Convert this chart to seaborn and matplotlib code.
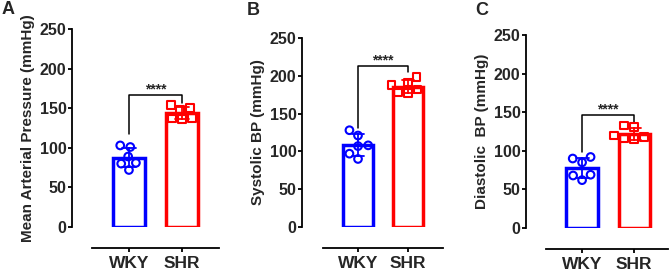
import matplotlib
matplotlib.use('Agg')
import pandas as pd
import matplotlib.pyplot as plt
import seaborn as sns

sns.set_style('ticks')
plt.rcParams['font.family'] = ['Liberation Sans', 'DejaVu Sans']
plt.rcParams['font.weight'] = 'bold'

groups = ['WKY', 'SHR']
colors = {'WKY': '#0000FF', 'SHR': '#FF0000'}
markers = {'WKY': 'o', 'SHR': 's'}

# individual animals (mmHg), n = 6 per group
map_wky = [101, 103, 89, 81, 80, 72]
map_shr = [150, 154, 148, 136, 138, 137]
sbp_wky = [128, 121, 108, 107, 97, 90]
sbp_shr = [198, 191, 188, 182, 178, 177]
dbp_wky = [92, 90, 85, 68, 69, 62]
dbp_shr = [131, 133, 115, 120, 116, 118]

panels = [(map_wky, map_shr), (sbp_wky, sbp_shr), (dbp_wky, dbp_shr)]
ylabels = ['Mean Arterial Pressure (mmHg)', 'Systolic BP (mmHg)', 'Diastolic  BP (mmHg)']
letters = ['A', 'B', 'C']
sig = '****'
# bracket: top, left leg end, right leg end
brackets = [(167, 117, 156), (213, 131, 205), (146, 98, 137)]

# layout in pixels: left, right, top, bottom of the plotting area
W, H = 670, 272
rects = [(72, 219, 29, 227), (302, 443, 38, 227), (526, 668, 35, 228)]
xlims = [(-1.075, 1.70), (-1.12, 1.70), (-1.077, 1.65)]
letter_pos = [(2, 1), (247, 2), (475, 2)]

fig = plt.figure(figsize=(W / 100, H / 100), dpi=100)

for i, (wky, shr) in enumerate(panels):
    df = pd.DataFrame({'group': ['WKY'] * len(wky) + ['SHR'] * len(shr),
                       'bp': wky + shr})
    l, r, t, b = rects[i]
    ax = fig.add_axes([l / W, 1 - b / H, (r - l) / W, (b - t) / H])

    for g in groups:
        sub = df[df.group == g]
        sns.barplot(data=sub, x='group', y='bp', order=groups, color=colors[g],
                    fill=False, width=0.6, linewidth=2.5, errorbar='sd',
                    capsize=0.25, err_kws={'color': colors[g], 'linewidth': 1.3},
                    ax=ax)
    for g in groups:
        sub = df[df.group == g]
        n_before = len(ax.collections)
        sns.swarmplot(data=sub, x='group', y='bp', order=groups, color=colors[g],
                      marker=markers[g], size=5.5, ax=ax)
        # hollow markers, as in the original figure
        for pts in ax.collections[n_before:]:
            pts.set_facecolor('none')
            pts.set_edgecolor(colors[g])
            pts.set_linewidth(1.5)

    ax.set_ylim(0, 250)
    ax.set_yticks(range(0, 251, 50))
    ax.set_xlim(*xlims[i])
    sns.despine(ax=ax)
    ax.spines['bottom'].set_position(('outward', 15))
    ax.spines['bottom'].set_bounds(-0.7, xlims[i][1])
    for s in ['left', 'bottom']:
        ax.spines[s].set_linewidth(1.3)
        ax.spines[s].set_color('black')
    ax.tick_params(width=1.3, length=3, color='black')
    ax.tick_params(axis='y', labelsize=11.5, pad=1)
    ax.tick_params(axis='x', labelsize=12.5, pad=3)
    ax.set_xlabel('')
    ax.set_ylabel(ylabels[i], fontsize=11, fontweight='bold', labelpad=3)

    top, lend, rend = brackets[i]
    ax.plot([0, 0, 1, 1], [lend, top, top, rend], color='black', lw=1.1)
    ax.annotate(sig, xy=(0.5, top), xytext=(0, -1), textcoords='offset points',
                ha='center', va='bottom', fontsize=10)

    fig.text(letter_pos[i][0] / W, 1 - letter_pos[i][1] / H, letters[i],
             fontsize=13, fontweight='bold', va='top', ha='left')

fig.savefig('out.png', dpi=100)
